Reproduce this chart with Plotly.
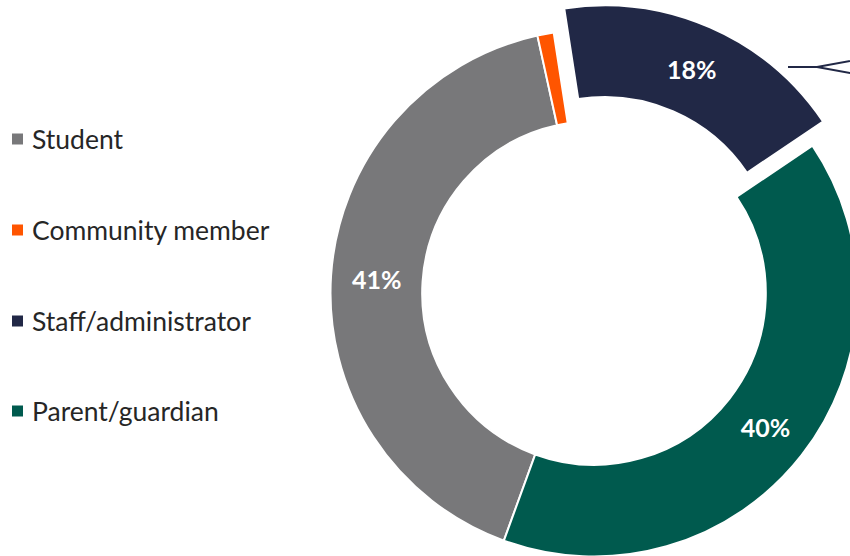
import plotly.graph_objects as go

# ---- data ----
labels = ["Student", "Community member", "Staff/administrator", "Parent/guardian"]
values = [41, 1, 18, 40]
text_labels = ["41%", "", "18%", "40%"]
colors = ["#78787a", "#ff5500", "#212846", "#005a4e"]
pulls = [0, 0, 0.10, 0]

# ---- canvas (larger than the window; extra area is clipped) ----
W, H = 900, 620
VIEW_W, VIEW_H = 850, 556

def px(x):
    return x / W

def py(y):
    return (H - y) / H

cx, cy, R = 594, 293, 263.5
half = R * (1 + max(pulls))

fig = go.Figure()
fig.add_trace(go.Pie(
    labels=labels,
    values=values,
    text=text_labels,
    textinfo="text",
    textposition="inside",
    insidetextorientation="horizontal",
    textfont=dict(family="Lato", size=25, color="white", weight="bold"),
    marker=dict(colors=colors, line=dict(color="white", width=2)),
    pull=pulls,
    hole=0.652,
    sort=False,
    direction="clockwise",
    rotation=200,
    showlegend=False,
    hoverinfo="label+percent",
    domain=dict(x=[px(cx - half), px(cx + half)], y=[py(cy + half), py(cy - half)]),
))

# ---- manual legend (spaced like the reference) ----
shapes = []
annotations = []
legend_y = [139, 230, 321, 411]
for lab, col, yy in zip(labels, colors, legend_y):
    shapes.append(dict(type="rect", xref="paper", yref="paper",
                       x0=px(12), x1=px(23), y0=py(yy + 5.5), y1=py(yy - 5.5),
                       fillcolor=col, line=dict(width=0)))
    annotations.append(dict(text=lab, xref="paper", yref="paper",
                            x=px(30), y=py(yy), xanchor="left", yanchor="middle",
                            showarrow=False,
                            font=dict(family="Lato", size=26.5, color="#262626")))

# ---- leader line at top right ----
shapes.append(dict(type="path", xref="paper", yref="paper",
                   path=f"M {px(788)} {py(67)} L {px(817)} {py(67)} L {px(900)} {py(52)} "
                        f"M {px(817)} {py(67)} L {px(900)} {py(82)}",
                   line=dict(color="#212846", width=2)))

fig.update_layout(
    width=W, height=H,
    margin=dict(l=0, r=0, t=0, b=0),
    paper_bgcolor="white",
    plot_bgcolor="white",
    shapes=shapes,
    annotations=annotations,
)

post = (
    "var gd=document.getElementById('{plot_id}');"
    f"gd.parentElement.style.cssText='width:{VIEW_W}px;height:{VIEW_H}px;overflow:hidden;';"
    "document.body.style.margin='0';document.body.style.overflow='hidden';"
    "document.documentElement.style.overflow='hidden';"
)
fig.write_html("out.html", post_script=post, config={"displayModeBar": False})
